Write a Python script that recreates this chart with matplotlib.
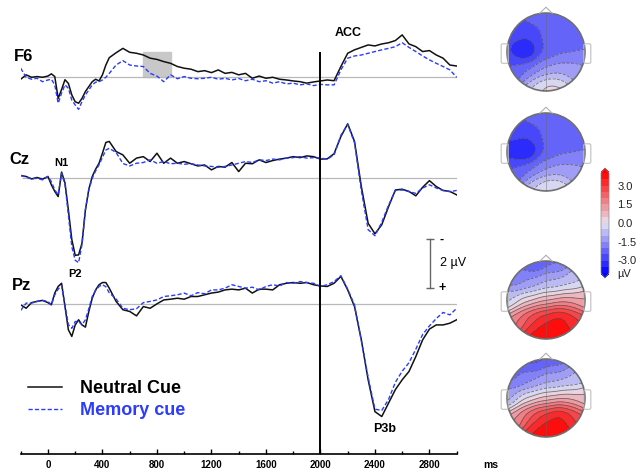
import numpy as np
import matplotlib
matplotlib.use("Agg")
import matplotlib.pyplot as plt
from matplotlib.patches import Rectangle, Circle, Polygon, FancyBboxPatch
from matplotlib.colors import LinearSegmentedColormap

plt.rcParams['font.family'] = ['Liberation Sans', 'DejaVu Sans']

# time points (ms)
T = [-200, -160, -120, -80, -40, 0, 25, 50, 75, 100, 125, 150, 175, 200, 225, 250, 275, 300,
     325, 350, 375, 400, 425, 450, 500, 550, 600, 650, 700, 750, 800, 850, 900, 950, 1000,
     1050, 1100, 1150, 1200, 1250, 1300, 1350, 1400, 1450, 1500, 1550, 1600, 1650, 1700, 1750,
     1800, 1850, 1900, 1950, 2000, 2050, 2100, 2150, 2200, 2250, 2300, 2350, 2400, 2450, 2500,
     2550, 2600, 2650, 2700, 2750, 2800, 2850, 2900, 2950, 3000]

# amplitudes (uV), negative plotted up
f6_neutral = [0.08, -0.1, 0.0, -0.03, 0.0, -0.05, -0.14, -0.03, 0.86, 0.5, 0.1, 0.25, 0.72, 1.0,
              1.06, 0.86, 0.58, 0.38, 0.18, 0.08, 0.15, -0.1, -0.5, -0.8,
              -1.0, -1.18, -1.02, -0.98, -0.91, -0.78, -0.73, -0.64, -0.57, -0.44, -0.37, -0.33,
              -0.23, -0.27, -0.19, -0.3, -0.16, -0.2, -0.1, -0.16, 0.04, -0.05, 0.04, 0.0, 0.08,
              0.11, 0.15, 0.18, 0.24, 0.19, 0.15,
              0.11, 0.14, -0.44, -0.98, -1.12, -1.22, -1.32, -1.28, -1.36, -1.41, -1.5, -1.73,
              -1.36, -1.25, -1.05, -1.09, -0.91, -0.78, -0.5, -0.46]
f6_memory = [-0.37, 0.0, 0.08, 0.04, 0.18, 0.11, 0.08, 0.31, 1.06, 0.65, 0.31, 0.45, 0.93, 1.13,
             1.31, 0.99, 0.72, 0.52, 0.31, 0.2, 0.18, 0.11, 0.0, -0.16,
             -0.5, -0.68, -0.5, -0.46, -0.44, -0.16, -0.05, 0.18, -0.1, 0.06, -0.03, 0.04, 0.06,
             0.04, 0.0, 0.08, 0.04, 0.11, 0.05, 0.14, 0.08, 0.18, 0.14, 0.24, 0.18, 0.27, 0.24,
             0.31, 0.27, 0.34, 0.29,
             0.31, 0.31, -0.3, -0.78, -0.87, -0.91, -0.98, -1.05, -1.12, -1.18, -1.25, -1.41,
             -1.22, -1.05, -0.87, -0.71, -0.57, -0.44, -0.3, 0.0]

cz_neutral = [-0.11, -0.07, 0.03, -0.03, 0.04, -0.07, 0.27, 0.54, 0.75, -0.25, 0.19, 1.3, 2.5,
              3.15, 3.13, 2.65, 1.29, 0.45, -0.07, -0.37, -0.61, -1.02, -1.46, -1.5,
              -1.09, -0.95, -0.61, -0.82, -0.88, -0.68, -1.02, -0.61, -0.82, -0.61, -0.68, -0.59,
              -0.5, -0.54, -0.34, -0.48, -0.45, -0.64, -0.27, -0.61, -0.59, -0.75, -0.64, -0.72,
              -0.78, -0.82, -0.88, -0.84, -0.91, -0.88, -0.78,
              -0.79, -1.0, -1.7, -2.22, -1.5, 0.34, 1.84, 2.27, 1.9, 1.16, 0.48, 0.45, 0.54, 0.72,
              0.37, 0.1, 0.34, 0.5, 0.54, 0.68]
cz_memory = [-0.11, -0.04, 0.03, 0.0, 0.07, -0.07, 0.14, 0.48, 0.68, -0.2, 0.25, 1.5, 2.8, 3.35,
             3.45, 2.7, 1.29, 0.48, 0.0, -0.3, -0.55, -0.85, -1.15, -1.22,
             -1.05, -0.6, -0.5, -0.61, -0.64, -0.75, -0.61, -0.68, -0.59, -0.61, -0.57, -0.59,
             -0.54, -0.5, -0.48, -0.45, -0.48, -0.54, -0.61, -0.68, -0.64, -0.75, -0.72, -0.78,
             -0.75, -0.82, -0.84, -0.88, -0.82, -0.84, -0.82,
             -0.78, -0.95, -1.75, -2.2, -1.45, 0.5, 2.1, 2.35, 1.8, 1.1, 0.5, 0.48, 0.55, 0.62,
             0.4, 0.27, 0.4, 0.5, 0.55, 0.5]

pz_neutral = [0.04, 0.18, -0.05, -0.1, -0.14, -0.05, 0.04, -0.44, -0.71, -0.84, 0.11, 1.06, 1.33,
              0.86, 0.65, 0.86, 0.95, 0.31, -0.23, -0.57, -0.78, -0.87, -0.87, -0.64,
              -0.1, 0.24, 0.31, 0.49, 0.11, 0.18, 0.0, -0.16, -0.19, -0.23, -0.19, -0.3, -0.3,
              -0.37, -0.44, -0.48, -0.57, -0.6, -0.57, -0.64, -0.44, -0.6, -0.6, -0.57, -0.78,
              -0.84, -0.87, -0.84, -0.87, -0.78, -0.73,
              -0.71, -0.84, -1.12, -0.57, 0.11, 1.47, 3.1, 4.4, 4.6, 4.05, 3.5, 3.1, 2.76, 2.15,
              1.47, 1.03, 0.86, 0.86, 0.79, 0.65]
pz_memory = [0.27, -0.03, -0.03, -0.1, -0.14, -0.1, 0.04, -0.37, -0.6, -0.75, 0.05, 0.85, 1.0,
             0.72, 0.72, 0.86, 0.65, 0.2, -0.3, -0.55, -0.71, -0.78, -0.7, -0.45,
             -0.2, 0.18, 0.24, 0.2, -0.05, -0.1, -0.16, -0.3, -0.33, -0.37, -0.44, -0.33, -0.46,
             -0.41, -0.57, -0.57, -0.64, -0.78, -0.71, -0.64, -0.68, -0.57, -0.71, -0.78, -0.73,
             -0.87, -0.84, -0.91, -0.87, -0.84, -0.71,
             -0.78, -0.91, -1.15, -0.6, 0.05, 1.5, 3.0, 4.3, 4.35, 3.9, 3.2, 2.75, 2.4, 1.85,
             1.25, 0.9, 0.6, 0.35, 0.45, 0.18]

channels = ['F6', 'Cz', 'Pz']
offsets = [0.0, 4.12, 9.25]

# topography: electrode positions (head units, nose up) and values (uV)
el_x = [-0.3, 0.3, -0.75, -0.4, 0.0, 0.4, 0.75, -0.95, -0.5, 0.0, 0.5, 0.95,
        -0.75, -0.4, 0.0, 0.4, 0.75, -0.3, 0.0, 0.3]
el_y = [0.9, 0.9, 0.5, 0.45, 0.45, 0.45, 0.5, 0.0, 0.0, 0.0, 0.0, 0.0,
        -0.5, -0.45, -0.45, -0.45, -0.5, -0.9, -0.95, -0.9]
topo1 = [-2.2, -2.0, -2.8, -2.9, -2.3, -2.2, -2.1, -2.9, -3.8, -2.4, -2.1, -2.0,
         -2.3, -1.9, -1.4, -1.2, -1.2, -0.5, 0.4, 0.1]
topo2 = [-2.2, -2.0, -2.8, -2.9, -2.3, -2.2, -2.1, -3.1, -3.9, -2.4, -2.1, -2.0,
         -2.4, -2.0, -1.5, -1.3, -1.3, -0.6, 0.2, 0.0]
topo3 = [-2.6, -2.1, -1.9, -1.3, -1.0, -0.8, -0.6, -0.7, 0.3, 0.9, 1.3, 1.0,
         1.8, 2.8, 3.4, 3.8, 3.0, 3.6, 4.0, 4.0]
topo4 = [-2.7, -2.3, -2.2, -1.5, -1.2, -1.0, -0.9, -1.3, 0.0, 0.6, 0.9, 0.6,
         1.4, 2.6, 3.3, 3.8, 2.8, 3.5, 4.0, 4.0]
topo_maps = [topo1, topo2, topo3, topo4]
head_centers_y = [52, 152, 300, 398]   # pixel rows

W, H = 641, 473
fig = plt.figure(figsize=(W / 100, H / 100), dpi=100)
ax = fig.add_axes([20.7 / W, 19 / H, 436 / W, 454 / H])
ax.set_xlim(-200, 3000)
ax.set_ylim(15.38, -3.155)

black = '#111111'
blue = '#2b3bff'

ax.hlines(offsets, -190, 3000, color='#b8b8b8', lw=0.9, zorder=1)
ax.add_patch(Rectangle((700, -1.02), 200, 1.02, color='#c8c8c8', zorder=0.5))

for ch, off, neu, mem in zip(channels, offsets, [f6_neutral, cz_neutral, pz_neutral],
                             [f6_memory, cz_memory, pz_memory]):
    ax.plot(T, np.array(neu) + off, color=black, lw=1.1, zorder=3,
            label='Neutral Cue' if ch == 'F6' else None)
    ax.plot(T, np.array(mem) + off, color=blue, lw=1.0, dashes=(3, 1.6), zorder=4,
            label='Memory cue' if ch == 'F6' else None)

ax.vlines(2000, -1.03, 15.38, color='black', lw=1.4, zorder=5, clip_on=False)

# channel names and components
ax.text(-178, -0.83, 'F6', fontsize=12, fontweight='bold', ha='center', va='center')
ax.text(-208, offsets[1] - 0.75, 'Cz', fontsize=12, fontweight='bold', ha='center', va='center')
ax.text(-193, offsets[2] - 0.73, 'Pz', fontsize=12, fontweight='bold', ha='center', va='center')
ax.text(2207, -1.81, 'ACC', fontsize=9, fontweight='bold', ha='center', va='center')
ax.text(100, offsets[1] - 0.62, 'N1', fontsize=8, fontweight='bold', ha='center', va='center')
ax.text(196, offsets[1] + 3.9, 'P2', fontsize=8, fontweight='bold', ha='center', va='center')
ax.text(2473, offsets[2] + 5.1, 'P3b', fontsize=9, fontweight='bold', ha='center', va='center')

# amplitude scale bar
ax.plot([2807, 2807], [6.6, 8.6], color='#666666', lw=1, marker='_', ms=6, mew=1)
ax.text(2890, 6.65, '-', fontsize=9, fontweight='bold', ha='center', va='center')
ax.text(2875, 7.6, '2 µV', fontsize=9, ha='left', va='center')
ax.text(2890, 8.6, '+', fontsize=9, fontweight='bold', ha='center', va='center')

# time axis
for s in ['left', 'right', 'top']:
    ax.spines[s].set_visible(False)
ax.spines['bottom'].set_linewidth(1.2)
ax.set_yticks([])
ax.set_xticks([0, 400, 800, 1200, 1600, 2000, 2400, 2800])
ax.set_xticks(range(-200, 3001, 200), minor=True)
ax.tick_params(axis='x', which='major', direction='in', length=3.5, width=1, pad=4,
               labelsize=7)
ax.tick_params(axis='x', which='minor', direction='in', length=2, width=1)
for lab in ax.get_xticklabels():
    lab.set_fontweight('bold')
fig.text(483 / W, 1 - 465 / H, 'ms', fontsize=7.5, fontweight='bold', va='center')

fig.legend(loc='upper left', bbox_to_anchor=(28 / W, 1 - 380 / H), frameon=False,
           borderpad=0, borderaxespad=0, handlelength=1.9, handletextpad=1.0,
           labelspacing=0.3, prop={'weight': 'bold', 'size': 13},
           labelcolor=['black', blue])

# topographic maps
cmap = LinearSegmentedColormap.from_list('topo', ['#0000ff', '#e6e4f0', '#ff0000'])
levels = np.arange(-4, 4.01, 0.5)
gx = np.linspace(-1, 1, 201)
GX, GY = np.meshgrid(gx, gx)
ex, ey = np.array(el_x), np.array(el_y)
cf = None
for cy, vals in zip(head_centers_y, topo_maps):
    hax = fig.add_axes([(546 - 56.5) / W, (H - cy - 56.5) / H, 113 / W, 113 / H])
    hax.set_xlim(-1.45, 1.45)
    hax.set_ylim(-1.45, 1.45)
    hax.set_aspect('equal')
    hax.axis('off')
    d2 = (GX[..., None] - ex) ** 2 + (GY[..., None] - ey) ** 2
    w = np.exp(-d2 / 0.1)
    Z = (w * np.array(vals)).sum(-1) / w.sum(-1)
    Z[GX ** 2 + GY ** 2 > 1] = np.nan
    cf = hax.contourf(GX, GY, Z, levels=levels, cmap=cmap, extend='both')
    hax.contour(GX, GY, Z, levels=levels, colors='#505050', linewidths=0.6, alpha=0.75)
    hax.plot([0, 0], [-1, 1], color='#666666', lw=0.5, alpha=0.6)
    hax.add_patch(Circle((0, 0), 1, fill=False, ec='#707070', lw=1.2))
    hax.add_patch(Polygon([(-0.17, 0.985), (0, 1.15), (0.17, 0.985)], closed=False,
                          fill=False, ec='#b0b0b0', lw=0.8))
    for sx in (-1, 1):
        hax.add_patch(FancyBboxPatch((sx * 1.06 - 0.05, -0.25), 0.1, 0.42,
                                     boxstyle='round,pad=0.04', fill=False,
                                     ec='#c0c0c0', lw=0.8))

cax = fig.add_axes([601 / W, (H - 278) / H, 8 / W, 110 / H])
cb = fig.colorbar(cf, cax=cax, ticks=[3, 1.5, 0, -1.5, -3], extend='neither')
cb.ax.set_yticklabels(['3.0', '1.5', '0.0', '-1.5', '-3.0'])
cb.ax.tick_params(labelsize=8, length=0, pad=6, labelcolor='#222222')
cb.outline.set_linewidth(0.5)
cb.outline.set_edgecolor('#888888')
fig.text(617 / W, 1 - 274 / H, 'µV', fontsize=8, color='#222222', va='center')

fig.savefig('out.png', dpi=100)
